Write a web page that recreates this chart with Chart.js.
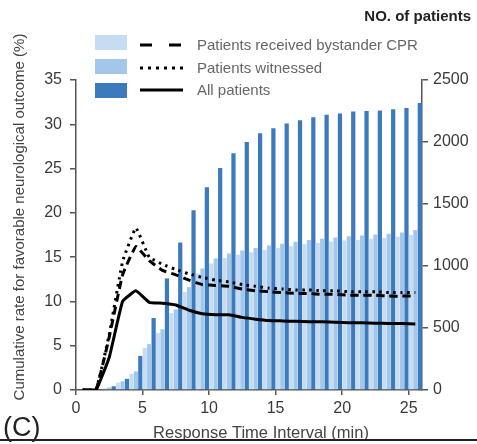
<!DOCTYPE html>
<html>
<head>
<meta charset="utf-8">
<script src="https://cdn.jsdelivr.net/npm/chart.js@4.4.0/dist/chart.umd.min.js"></script>
<style>
    html, body { margin: 0; padding: 0; background: #fff; }
    #wrap { width: 477px; height: 444px; position: relative; }
</style>
</head>
<body>
<div id="wrap"><canvas id="grafico"></canvas></div>
<script>
// bins of the response time interval (min), one bar group per minute
const binCenters = [0.5, 1.5, 2.5, 3.5, 4.5, 5.5, 6.5, 7.5, 8.5, 9.5, 10.5, 11.5, 12.5,
    13.5, 14.5, 15.5, 16.5, 17.5, 18.5, 19.5, 20.5, 21.5, 22.5, 23.5, 24.5, 25.5];

// NO. of patients (right axis)
const nBystander = [0, 3, 15, 60, 130, 340, 460, 620, 790, 940, 1020, 1065, 1090,
    1110, 1130, 1145, 1160, 1175, 1185, 1195, 1205, 1210, 1220, 1225, 1235, 1250];
const nWitnessed = [0, 5, 20, 70, 150, 370, 490, 650, 830, 980, 1060, 1100, 1125,
    1145, 1165, 1180, 1195, 1210, 1220, 1230, 1240, 1245, 1255, 1260, 1270, 1290];
const nAll = [0, 0, 30, 90, 275, 580, 900, 1190, 1450, 1635, 1790, 1910, 2000,
    2070, 2110, 2150, 2175, 2200, 2220, 2230, 2245, 2250, 2255, 2265, 2275, 2315];

// cumulative rate for favorable neurological outcome (%) (left axis)
const rateBystander = [0, 0, 6.0, 13.0, 16.2, 14.6, 13.5, 13.0, 12.4, 11.9, 11.8, 11.7, 11.4,
    11.2, 11.1, 11.0, 10.9, 10.9, 10.8, 10.8, 10.7, 10.7, 10.7, 10.6, 10.6, 10.6];
const rateWitnessed = [0, 0, 6.3, 14.5, 18.3, 15.0, 14.2, 13.6, 13.1, 12.7, 12.4, 12.2, 11.9,
    11.7, 11.5, 11.4, 11.3, 11.3, 11.2, 11.2, 11.1, 11.1, 11.1, 11.0, 11.0, 11.0];
const rateAll = [0, 0, 3.7, 10.0, 11.2, 9.9, 9.8, 9.6, 9.0, 8.6, 8.5, 8.5, 8.2,
    8.0, 7.85, 7.8, 7.75, 7.7, 7.7, 7.65, 7.6, 7.6, 7.55, 7.5, 7.5, 7.45];

const xTicks = [0, 5, 10, 15, 20, 25];
const rateTicks = [0, 5, 10, 15, 20, 25, 30, 35];
const countTicks = [0, 500, 1000, 1500, 2000, 2500];

const labels = ['Patients received bystander CPR', 'Patients witnessed', 'All patients'];

const fonte = '"Liberation Sans", Arial, sans-serif';
const corEixo = '#555';
const corTexto = '#3a3a3a';

function pontos(valores) {
    return binCenters.map((x, i) => ({ x: x, y: valores[i] }));
}

// textos fora do padrão do Chart.js: títulos, legenda, "(C)"
const extras = {
    id: 'extras',
    afterDraw(chart) {
        const ctx = chart.ctx;
        ctx.save();

        // título do eixo y esquerdo
        ctx.save();
        ctx.translate(20, 217);
        ctx.rotate(-Math.PI / 2);
        ctx.font = '15px ' + fonte;
        ctx.fillStyle = '#444';
        ctx.textAlign = 'center';
        ctx.textBaseline = 'middle';
        ctx.fillText('Cumulative rate for favorable neurological outcome (%)', 0, 0);
        ctx.restore();

        // título do eixo direito
        ctx.font = 'bold 15px ' + fonte;
        ctx.fillStyle = '#222';
        ctx.textAlign = 'right';
        ctx.textBaseline = 'middle';
        ctx.fillText('NO. of patients', 471, 17);

        // título do eixo x
        ctx.font = '16.5px ' + fonte;
        ctx.fillStyle = '#444';
        ctx.textAlign = 'center';
        ctx.fillText('Response Time Interval (min)', 261, 433);

        // (C)
        ctx.font = '27px ' + fonte;
        ctx.fillStyle = '#222';
        ctx.textAlign = 'left';
        ctx.fillText('(C)', 3, 429);

        // linha inferior
        ctx.strokeStyle = '#222';
        ctx.lineWidth = 2;
        ctx.beginPath();
        ctx.moveTo(0, 440);
        ctx.lineTo(477, 440);
        ctx.stroke();

        // legenda
        const linhas = [
            { box: chart.data.datasets[3], yBox: 42, yLinha: 45 },
            { box: chart.data.datasets[4], yBox: 66, yLinha: 68 },
            { box: chart.data.datasets[5], yBox: 90, yLinha: 90 }
        ];
        linhas.forEach(function(item, i) {
            ctx.fillStyle = item.box.backgroundColor;
            ctx.fillRect(95, item.yBox - 7, 32, 15);

            ctx.strokeStyle = '#000';
            ctx.lineWidth = 3;
            ctx.lineCap = 'butt';
            if (i === 0) ctx.setLineDash([12, 17]);
            else if (i === 1) ctx.setLineDash([3, 5]);
            else ctx.setLineDash([]);
            ctx.beginPath();
            ctx.moveTo(140, item.yLinha);
            ctx.lineTo(183, item.yLinha);
            ctx.stroke();
            ctx.setLineDash([]);

            ctx.font = '15px ' + fonte;
            ctx.fillStyle = '#666';
            ctx.textAlign = 'left';
            ctx.textBaseline = 'middle';
            ctx.fillText(labels[i], 197, item.yLinha + 1);
        });

        ctx.restore();
    }
};

const ctxGrafico = document.getElementById('grafico').getContext('2d');

const grafico = new Chart(ctxGrafico, {
    type: 'bar',
    data: {
        datasets: [
            {
                type: 'line',
                label: labels[0],
                data: pontos(rateBystander),
                yAxisID: 'y',
                borderColor: '#000',
                borderWidth: 3,
                borderDash: [8, 5],
                pointRadius: 0,
                tension: 0.1,
                order: 0
            },
            {
                type: 'line',
                label: labels[1],
                data: pontos(rateWitnessed),
                yAxisID: 'y',
                borderColor: '#000',
                borderWidth: 3,
                borderDash: [2.5, 4.5],
                pointRadius: 0,
                tension: 0.1,
                order: 0
            },
            {
                type: 'line',
                label: labels[2],
                data: pontos(rateAll),
                yAxisID: 'y',
                borderColor: '#000',
                borderWidth: 3,
                pointRadius: 0,
                tension: 0.1,
                order: 0
            },
            {
                label: labels[0],
                data: pontos(nBystander),
                yAxisID: 'y2',
                backgroundColor: '#c5dcf2',
                categoryPercentage: 1,
                barPercentage: 0.95,
                order: 1
            },
            {
                label: labels[1],
                data: pontos(nWitnessed),
                yAxisID: 'y2',
                backgroundColor: '#a3c7ea',
                categoryPercentage: 1,
                barPercentage: 0.95,
                order: 1
            },
            {
                label: labels[2],
                data: pontos(nAll),
                yAxisID: 'y2',
                backgroundColor: '#3b7abd',
                categoryPercentage: 1,
                barPercentage: 0.95,
                order: 1
            }
        ]
    },
    options: {
        responsive: true,
        maintainAspectRatio: false,
        animation: false,
        layout: { padding: { top: 80, left: 0, right: 0, bottom: 0 } },
        plugins: {
            legend: { display: false },
            tooltip: { enabled: false }
        },
        scales: {
            x: {
                type: 'linear',
                min: 0,
                max: 26,
                offset: false,
                afterBuildTicks: s => { s.ticks = xTicks.map(v => ({ value: v })); },
                afterFit: s => { s.height = 54; },
                grid: { drawOnChartArea: false, offset: false, tickLength: 5, color: corEixo, lineWidth: 1.5 },
                border: { display: true, color: corEixo, width: 1.5 },
                ticks: { font: { family: fonte, size: 16 }, color: corTexto, padding: 4, maxRotation: 0,
                    callback: v => String(v) }
            },
            y: {
                position: 'left',
                min: 0,
                max: 35,
                afterBuildTicks: s => { s.ticks = rateTicks.map(v => ({ value: v })); },
                afterFit: s => { s.width = 76; },
                grid: { drawOnChartArea: false, tickLength: 6, color: corEixo, lineWidth: 1.5 },
                border: { display: true, color: corEixo, width: 1.5 },
                ticks: { font: { family: fonte, size: 16 }, color: corTexto, padding: 8,
                    callback: v => String(v) }
            },
            y2: {
                position: 'right',
                min: 0,
                max: 2500,
                afterBuildTicks: s => { s.ticks = countTicks.map(v => ({ value: v })); },
                afterFit: s => { s.width = 55; },
                grid: { drawOnChartArea: false, tickLength: 6, color: corEixo, lineWidth: 1.5 },
                border: { display: true, color: corEixo, width: 1.5 },
                ticks: { font: { family: fonte, size: 16 }, color: corTexto, padding: 5,
                    callback: v => String(v) }
            }
        }
    },
    plugins: [extras]
});
</script>
</body>
</html>
